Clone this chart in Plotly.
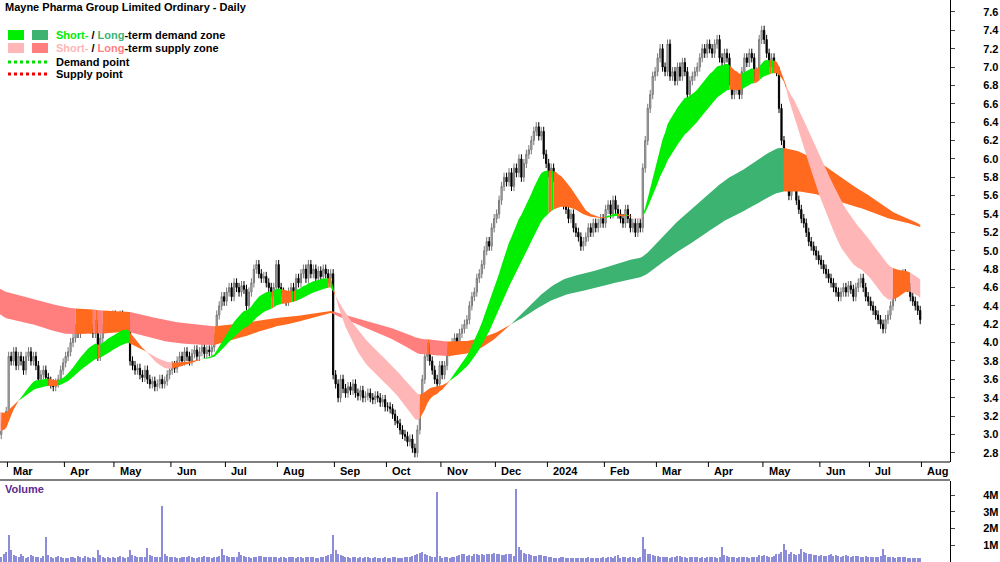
import pandas as pd
import plotly.graph_objects as go

dates = pd.bdate_range("2023-02-20", "2024-07-29")

closes = (
    [3.00,2.95,3.05,3.00,3.10,3.15,3.25] +
    [3.85,3.80,3.90,3.75,3.85,3.80,3.70,3.85,3.90,3.80,3.85,3.75,3.60,3.65,3.70,3.62,3.58,3.55,3.52,3.56,3.60,3.70,3.78] +
    [3.85,3.90,4.00,4.05,4.15,4.10,4.20,4.15,4.25,4.20,4.15,4.10,4.20,3.85,4.05,4.15,4.20,4.25,4.20,4.30] +
    [4.25,4.20,4.30,4.25,4.15,4.20,3.80,3.75,3.70,3.72,3.65,3.62,3.70,3.60,3.55,3.58,3.52,3.55,3.60,3.55,3.58,3.65,3.70] +
    [3.75,3.72,3.80,3.85,3.80,3.90,3.85,3.80,3.88,3.92,3.85,3.90,3.95,3.88,3.92,3.90,3.95,4.05,4.30,4.40,4.50,4.45] +
    [4.55,4.60,4.50,4.65,4.60,4.55,4.62,4.58,4.40,4.55,4.65,4.80,4.85,4.75,4.70,4.72,4.65,4.60,4.55,4.60,4.85] +
    [4.60,4.55,4.50,4.45,4.55,4.60,4.50,4.70,4.65,4.75,4.80,4.70,4.85,4.75,4.80,4.70,4.78,4.72,4.80,4.75,4.70,4.75,3.65] +
    [3.55,3.40,3.60,3.50,3.45,3.52,3.48,3.55,3.45,3.42,3.48,3.40,3.42,3.45,3.40,3.38,3.42,3.40,3.35,3.38,3.30] +
    [3.30,3.28,3.22,3.15,3.12,3.05,3.00,2.98,2.92,2.95,2.85,2.80,3.05,3.30,3.60,3.85,3.95,3.80,3.70,3.60,3.55,3.75] +
    [3.65,3.75,3.90,3.95,4.00,4.05,4.00,4.10,4.15,4.20,4.25,4.40,4.50,4.55,4.70,4.75,4.85,5.00,5.10,5.05,5.25,5.35] +
    [5.40,5.55,5.70,5.80,5.75,5.85,5.70,5.90,5.85,6.00,5.80,5.95,6.05,6.10,6.20,6.30,6.35,6.25,6.30,6.05,5.95] +
    [5.85,5.90,5.80,5.75,5.60,5.65,5.50,5.45,5.35,5.40,5.25,5.20,5.15,5.05,5.10,5.15,5.25,5.20,5.30,5.25,5.30,5.35,5.30] +
    [5.45,5.50,5.40,5.55,5.45,5.40,5.35,5.30,5.45,5.35,5.25,5.30,5.20,5.30,5.25,5.90,6.20,6.55,6.70,6.90,6.95] +
    [7.10,7.20,7.00,6.95,7.25,6.90,6.95,6.85,7.00,6.90,7.05,6.95,6.70,6.85,6.90,6.95,7.00,7.10,7.20,7.15,7.25] +
    [7.20,7.15,7.25,7.30,7.10,7.05,7.15,7.10,6.85,6.70,6.75,6.80,6.70,6.95,7.10,7.05,7.15,7.10,6.90,6.95,7.30,7.40] +
    [7.30,7.15,7.05,7.10,7.00,6.95,6.55,6.20,6.05,5.85,5.60,5.75,5.90,5.55,5.45,5.35,5.30,5.20,5.10,5.05,5.00,4.95,4.90] +
    [4.85,4.80,4.75,4.70,4.65,4.60,4.55,4.50,4.55,4.60,4.55,4.62,4.58,4.50,4.60,4.65,4.70,4.60,4.50,4.45] +
    [4.40,4.35,4.30,4.25,4.20,4.15,4.25,4.30,4.40,4.50,4.55,4.65,4.70,4.75,4.70,4.60,4.50,4.45,4.40,4.35,4.25]
)

# volume in thousands
volumes = (
    [300,250,400,350,280,500,600] +
    [1600,700,400,350,300,450,380,250,300,420,350,280,300,260,330,1500,400,300,250,280,350,300,260] +
    [220,250,300,280,240,350,300,260,330,280,250,300,260,700,400,300,260,280,250,300] +
    [260,300,350,280,250,300,700,400,350,300,280,320,300,850,400,350,300,320,280,3350,500,350,300] +
    [280,300,260,250,320,300,280,350,300,260,250,300,280,330,300,270,250,300,280,350,800,400] +
    [350,300,280,320,300,600,400,350,280,300,250,280,300,350,330,300,280,320,300,280,300] +
    [260,280,300,250,320,300,280,260,300,280,250,300,280,320,300,260,250,280,300,350,400,500,1600] +
    [700,500,400,350,300,280,260,300,280,250,270,260,280,300,250,260,280,240,260,250,270] +
    [260,250,280,300,260,250,240,280,300,320,350,400,500,550,600,450,400,350,300,280,4200,350] +
    [250,280,300,260,300,280,350,400,450,500,380,400,350,500,450,400,480,420,500,450,480,520] +
    [450,500,400,420,480,450,500,380,4400,900,700,550,500,450,400,380,350,400,420,380,350] +
    [300,280,250,260,240,280,300,250,230,260,250,240,230,260,250,240,280,260,250,240,260,230,300] +
    [250,280,300,260,350,400,260,280,300,250,280,300,240,260,280,1500,800,500,450,400,380] +
    [350,300,320,280,300,260,280,300,330,350,300,280,260,300,320,280,300,260,280,250,300] +
    [280,300,320,260,280,900,400,350,300,280,300,260,280,320,300,280,260,300,280,320,400,350] +
    [400,350,320,300,380,450,500,600,1050,700,500,600,450,400,500,800,600,550,500,450,400,420,380] +
    [400,350,380,420,450,380,400,350,320,380,400,350,300,330,380,350,300,320,350,300] +
    [300,280,320,300,350,750,400,320,300,280,260,300,280,320,300,260,240,250,260,230,220]
)

month_labels = ["Mar","Apr","May","Jun","Jul","Aug","Sep","Oct","Nov","Dec","2024","Feb",
                "Mar","Apr","May","Jun","Jul","Aug"]
price_ticks = [2.8,3.0,3.2,3.4,3.6,3.8,4.0,4.2,4.4,4.6,4.8,5.0,5.2,5.4,5.6,5.8,6.0,6.2,6.4,6.6,6.8,7.0,7.2,7.4,7.6]
vol_ticks = [0, 1e6, 2e6, 3e6, 4e6]
vol_tick_labels = ["0", "1M", "2M", "3M", "4M"]

n = len(closes)
idx = list(range(n))
opens = [closes[0]] + closes[:-1]
highs = [max(o, c) + 0.05 for o, c in zip(opens, closes)]
lows = [min(o, c) - 0.05 for o, c in zip(opens, closes)]

def ema(vals, span, seed):
    a = 2 / (span + 1)
    out, e = [], seed
    for v in vals:
        e = e + a * (v - e)
        out.append(e)
    return out

s_fast = ema(closes, 20, 3.05)
s_slow = ema(closes, 40, 3.3)
l_fast = ema(closes, 130, 4.40)
l_slow = ema(closes, 215, 4.65)

ORANGE = "#FF6A1F"

def band_traces(fast, slow, dem_col, sup_col):
    cols = []
    for i in range(n):
        up, lo = max(fast[i], slow[i]), min(fast[i], slow[i])
        if fast[i] >= slow[i]:
            cols.append(ORANGE if closes[i] < up else dem_col)
        else:
            cols.append(ORANGE if closes[i] > lo else sup_col)
    traces = []
    start = 0
    for i in range(1, n + 1):
        if i == n or cols[i] != cols[start]:
            end = min(i, n - 1)
            xs = idx[start:end + 1]
            up = [max(fast[k], slow[k]) for k in xs]
            lo = [min(fast[k], slow[k]) for k in xs]
            traces.append(go.Scatter(x=xs + xs[::-1], y=up + lo[::-1], fill="toself",
                                     fillcolor=cols[start], line=dict(width=0),
                                     mode="lines", hoverinfo="skip", showlegend=False,
                                     xaxis="x", yaxis="y"))
            start = i
    return traces

fig = go.Figure()
for t in band_traces(l_fast, l_slow, "#3CB371", "#FF7F7F"):
    fig.add_trace(t)
for t in band_traces(s_fast, s_slow, "#00EE00", "#FFB6B6"):
    fig.add_trace(t)

fig.add_trace(go.Candlestick(x=idx, open=opens, high=highs, low=lows, close=closes,
                             increasing=dict(line=dict(color="#777777", width=1), fillcolor="#C8C8C8"),
                             decreasing=dict(line=dict(color="#000000", width=1), fillcolor="#000000"),
                             whiskerwidth=0, showlegend=False, xaxis="x", yaxis="y"))

fig.add_trace(go.Bar(x=idx, y=[v * 1000 for v in volumes], marker=dict(color="#8C8CD8", line=dict(width=0)),
                     width=0.45, showlegend=False, xaxis="x2", yaxis="y2"))

month_idx = []
for i, d in enumerate(dates):
    if i > 0 and d.month != dates[i - 1].month:
        month_idx.append(i)
month_idx.append(n)

xr = [3.5, 3.5 + 950 / 2.477]
fig.update_layout(
    width=1000, height=562, margin=dict(l=0, r=0, t=0, b=0),
    paper_bgcolor="white", plot_bgcolor="white",
    font=dict(family="Liberation Sans, Arial", size=11, color="#000"),
    xaxis=dict(domain=[0, 0.95], range=xr, showgrid=False, zeroline=False, showticklabels=False,
               rangeslider=dict(visible=False), anchor="y"),
    yaxis=dict(domain=[(562 - 462) / 562, 1], range=[2.70, 7.73], side="right", showgrid=False,
               zeroline=False, tickvals=price_ticks, ticktext=[f"<b>{v:.1f}</b>" for v in price_ticks],
               ticks="outside", ticklen=4, showline=True, linecolor="#000", linewidth=1,
               ticklabelstandoff=26, tickfont=dict(size=11), anchor="x"),
    xaxis2=dict(domain=[0, 0.95], range=xr, showgrid=False, zeroline=False, showticklabels=False, anchor="y2"),
    yaxis2=dict(domain=[0, (562 - 481) / 562], range=[0, 4.85e6], side="right", showgrid=False,
                zeroline=False, tickvals=vol_ticks, ticktext=[f"<b>{t}</b>" for t in vol_tick_labels],
                ticks="outside", ticklen=4, showline=True, linecolor="#000", linewidth=1,
                ticklabelstandoff=26, anchor="x2"),
    bargap=0,
)

for yy in [462, 480]:
    fig.add_shape(type="line", xref="paper", yref="paper", x0=0, x1=0.95,
                  y0=(562 - yy) / 562, y1=(562 - yy) / 562, line=dict(color="#000", width=1))

for k, lab in zip(month_idx, month_labels):
    fig.add_shape(type="line", xref="x", yref="paper", x0=k - 0.5, x1=k - 0.5,
                  y0=(562 - 462) / 562, y1=(562 - 467) / 562, line=dict(color="#000", width=1))
    fig.add_annotation(x=k + 1, y=(562 - 471) / 562, xref="x", yref="paper", text=f"<b>{lab}</b>",
                       showarrow=False, xanchor="left", yanchor="middle",
                       font=dict(size=11, family="Liberation Sans Narrow, Liberation Sans", color="#000"))

def py(p):
    return 1 - p / 562

fig.add_annotation(x=3 / 1000, y=py(7), xref="paper", yref="paper", xanchor="left", yanchor="middle",
                   text="<b>Mayne Pharma Group Limited Ordinary - Daily</b>", showarrow=False,
                   font=dict(size=11))
fig.add_annotation(x=3 / 1000, y=py(489), xref="paper", yref="paper", xanchor="left", yanchor="middle",
                   text="<b>Volume</b>", showarrow=False, font=dict(size=11, color="#5B2C8F"))

leg = [
    (35, "#00EE00", "#3CB371",
     "<b><span style='color:#00EE00'>Short-</span> / <span style='color:#3CB371'>Long</span>-term demand zone</b>"),
    (48, "#FFB6B6", "#FF7F7F",
     "<b><span style='color:#FFB6B6'>Short-</span> / <span style='color:#FF7F7F'>Long</span>-term supply zone</b>"),
]
for yy, c1, c2, txt in leg:
    for x0, c in [(8, c1), (32, c2)]:
        fig.add_shape(type="rect", xref="paper", yref="paper", x0=x0 / 1000, x1=(x0 + 16) / 1000,
                      y0=py(yy + 5), y1=py(yy - 5), fillcolor=c, line=dict(width=0))
    fig.add_annotation(x=54 / 1000, y=py(yy), xref="paper", yref="paper", xanchor="left",
                       yanchor="middle", text=txt, showarrow=False, font=dict(size=11))
for yy, c, txt in [(62, "#00DD00", "Demand point"), (74, "#EE0000", "Supply point")]:
    fig.add_shape(type="line", xref="paper", yref="paper", x0=8 / 1000, x1=48 / 1000,
                  y0=py(yy), y1=py(yy), line=dict(color=c, width=3, dash="dot"))
    fig.add_annotation(x=54 / 1000, y=py(yy), xref="paper", yref="paper", xanchor="left",
                       yanchor="middle", text=f"<b>{txt}</b>", showarrow=False, font=dict(size=11))

fig.write_html("out.html", config={"displayModeBar": False},
               post_script="document.body.style.margin='0';document.body.style.overflow='hidden';")
